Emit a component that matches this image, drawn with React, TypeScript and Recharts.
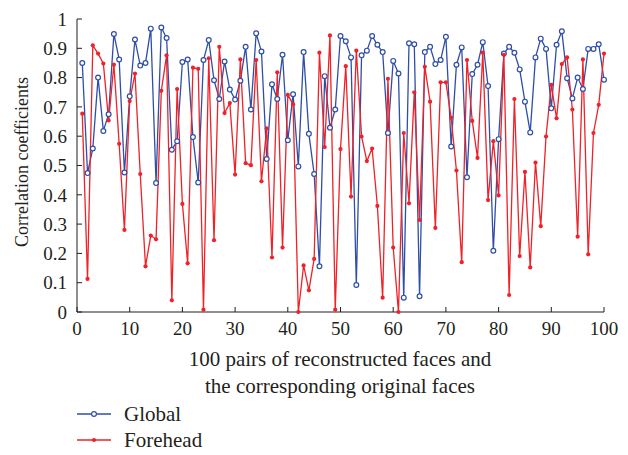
import { LineChart, Line, XAxis, YAxis, Label } from 'recharts'

const pairs = Array.from({ length: 100 }, (_, i) => i + 1)

const globalVals = [
  0.85, 0.474, 0.558, 0.8, 0.618, 0.675, 0.949, 0.862, 0.476, 0.736,
  0.93, 0.841, 0.85, 0.967, 0.44, 0.971, 0.935, 0.554, 0.583, 0.853,
  0.862, 0.597, 0.442, 0.86, 0.928, 0.791, 0.727, 0.855, 0.759, 0.725,
  0.789, 0.905, 0.691, 0.951, 0.889, 0.522, 0.777, 0.727, 0.878, 0.586,
  0.743, 0.497, 0.887, 0.608, 0.471, 0.156, 0.805, 0.629, 0.691, 0.942,
  0.924, 0.869, 0.092, 0.876, 0.892, 0.942, 0.912, 0.887, 0.611, 0.857,
  0.814, 0.049, 0.917, 0.914, 0.054, 0.887, 0.905, 0.846, 0.86, 0.939,
  0.565, 0.844, 0.903, 0.46, 0.812, 0.844, 0.921, 0.771, 0.209, 0.59,
  0.882, 0.905, 0.885, 0.828, 0.718, 0.613, 0.869, 0.933, 0.898, 0.695,
  0.912, 0.958, 0.798, 0.729, 0.8, 0.761, 0.898, 0.898, 0.914, 0.793,
]

const foreheadVals = [
  0.677, 0.113, 0.91, 0.882, 0.848, 0.654, 0.844, 0.574, 0.28, 0.72,
  0.814, 0.471, 0.156, 0.261, 0.248, 0.755, 0.876, 0.04, 0.761, 0.369,
  0.166, 0.834, 0.83, 0.008, 0.866, 0.245, 0.905, 0.679, 0.713, 0.469,
  0.862, 0.508, 0.501, 0.86, 0.446, 0.627, 0.186, 0.818, 0.22, 0.741,
  0.709, 0.0, 0.159, 0.074, 0.181, 0.885, 0.563, 0.944, 0.008, 0.556,
  0.839, 0.394, 0.892, 0.599, 0.515, 0.558, 0.362, 0.049, 0.796, 0.22,
  0.0, 0.611, 0.371, 0.75, 0.314, 0.837, 0.718, 0.287, 0.784, 0.784,
  0.663, 0.483, 0.17, 0.86, 0.652, 0.526, 0.885, 0.382, 0.583, 0.398,
  0.878, 0.058, 0.727, 0.191, 0.478, 0.152, 0.51, 0.293, 0.599, 0.775,
  0.661, 0.846, 0.869, 0.691, 0.257, 0.862, 0.197, 0.611, 0.707, 0.882,
]

const xTicks = [0, 10, 20, 30, 40, 50, 60, 70, 80, 90, 100]
const yTicks = [0, 0.1, 0.2, 0.3, 0.4, 0.5, 0.6, 0.7, 0.8, 0.9, 1]

const data = pairs.map((p, i) => ({ pair: p, global: globalVals[i], forehead: foreheadVals[i] }))

const BLUE = '#2f4ea6'
const RED = '#ee2228'
const FONT = '"Liberation Serif", "DejaVu Serif", serif'
const TEXT = '#231f20'

function BlueDot(props: any) {
  const { cx, cy } = props
  if (cx == null || cy == null) return null
  return <circle cx={cx} cy={cy} r={2.4} fill="#fff" stroke={BLUE} strokeWidth={1.2} />
}

function RedDot(props: any) {
  const { cx, cy } = props
  if (cx == null || cy == null) return null
  return <circle cx={cx} cy={cy} r={2.1} fill={RED} stroke="none" />
}

const legendItems = [
  { name: 'Global', color: BLUE, open: true },
  { name: 'Forehead', color: RED, open: false },
]

export default function App() {
  return (
    <div style={{ position: 'absolute', left: 0, top: 0, width: 628, height: 455, background: '#fff' }}>
      <LineChart width={628} height={455} data={data} margin={{ top: 19, right: 24, left: 0, bottom: 0 }}>
        <XAxis
          dataKey="pair"
          type="number"
          domain={[0, 100]}
          ticks={xTicks}
          stroke={TEXT}
          tickSize={-5}
          tickMargin={15}
          tick={{ fill: TEXT, fontSize: 19, fontFamily: FONT }}
          height={143}
        >
          <Label
            content={() => (
              <text textAnchor="middle" fill={TEXT} fontSize={21} fontFamily={FONT}>
                <tspan x={340} y={366}>100 pairs of reconstructed faces and</tspan>
                <tspan x={340} y={393}>the corresponding original faces</tspan>
              </text>
            )}
          />
        </XAxis>
        <YAxis
          type="number"
          domain={[0, 1]}
          ticks={yTicks}
          width={77}
          stroke={TEXT}
          tickSize={-5}
          tickMargin={15}
          tick={{ fill: TEXT, fontSize: 19, fontFamily: FONT }}
        >
          <Label
            content={() => (
              <text x={22} y={162} transform="rotate(-90 22 162)" textAnchor="middle" dominantBaseline="central" fill={TEXT} fontSize={18} fontFamily={FONT}>
                Correlation coefficients
              </text>
            )}
          />
        </YAxis>
        <Line dataKey="global" stroke={BLUE} strokeWidth={1.3} dot={<BlueDot />} activeDot={false} isAnimationActive={false} />
        <Line dataKey="forehead" stroke={RED} strokeWidth={1.3} dot={<RedDot />} activeDot={false} isAnimationActive={false} />
      </LineChart>
      <div style={{ position: 'absolute', left: 77, top: 401, fontFamily: FONT, fontSize: 21, color: TEXT }}>
        {legendItems.map((it) => (
          <div key={it.name} style={{ display: 'flex', alignItems: 'center', height: 26 }}>
            <svg width={34} height={10}>
              <line x1={0} y1={5} x2={34} y2={5} stroke={it.color} strokeWidth={1.3} />
              {it.open
                ? <circle cx={17} cy={5} r={2.4} fill="#fff" stroke={it.color} strokeWidth={1.2} />
                : <circle cx={17} cy={5} r={2.1} fill={it.color} />}
            </svg>
            <span style={{ marginLeft: 13, lineHeight: '26px' }}>{it.name}</span>
          </div>
        ))}
      </div>
    </div>
  )
}
